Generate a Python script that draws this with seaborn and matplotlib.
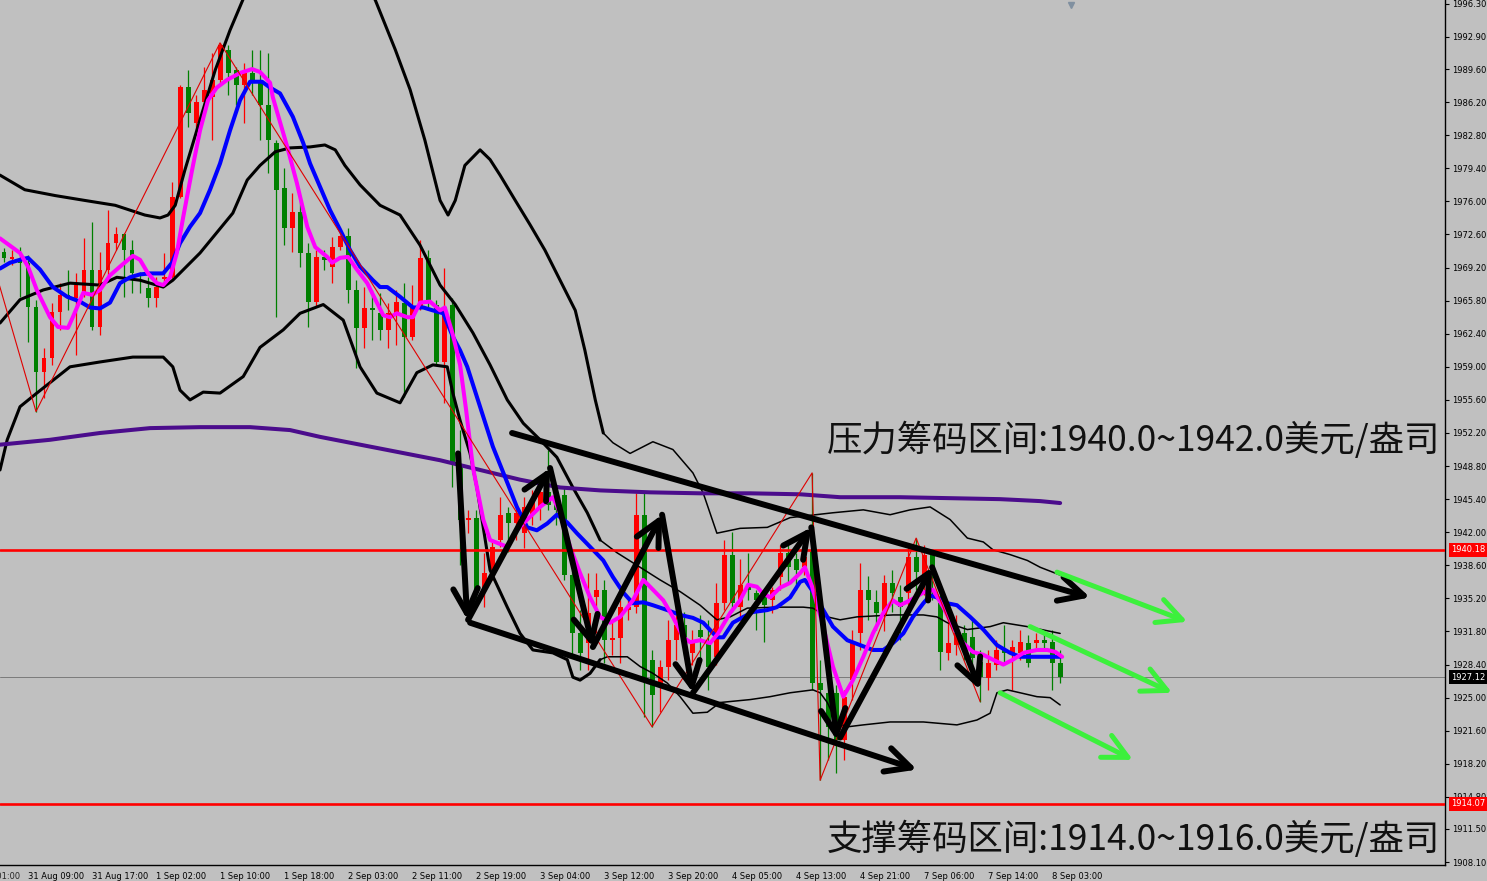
import numpy as np
import pandas as pd
import seaborn as sns
import matplotlib
matplotlib.use('Agg')
import matplotlib.pyplot as plt

# ---- candles (H1 gold, one row per bar) ----
opens = [1970.8, 1970.1, 1970.0, 1969.7, 1965.1, 1958.5, 1959.9, 1964.6, 1966.4, 1966.1,
         1966.6, 1969.0, 1963.1, 1969.0, 1971.7, 1972.7, 1971.0, 1968.6, 1967.1, 1966.1,
         1968.0, 1968.2, 1976.5, 1987.8, 1984.1, 1986.2, 1986.7, 1988.5, 1991.6, 1989.5,
         1988.0, 1989.2, 1988.5, 1985.9, 1982.0, 1977.4, 1973.3, 1974.9, 1970.7, 1965.7,
         1970.3, 1969.3, 1971.3, 1972.4, 1966.9, 1963.0, 1965.0, 1964.5, 1962.8, 1964.5,
         1965.6, 1962.1, 1965.1, 1970.2, 1965.4, 1959.5, 1965.4, 1948.9, 1943.3, 1943.5,
         1936.1, 1938.1, 1941.2, 1944.0, 1943.0, 1941.9, 1943.8, 1944.6, 1946.1, 1945.3,
         1945.8, 1937.6, 1931.6, 1930.6, 1935.3, 1936.1, 1930.9, 1931.1, 1934.0, 1934.3,
         1943.8, 1928.9, 1926.5, 1928.2, 1930.9, 1932.5, 1929.6, 1932.0, 1930.7, 1929.2,
         1934.7, 1939.7, 1934.3, 1936.6, 1935.8, 1935.6, 1935.0, 1937.4, 1939.9, 1939.2,
         1938.4, 1940.2, 1926.5, 1925.5, 1925.5, 1920.6, 1926.8, 1931.6, 1936.1, 1934.8,
         1933.5, 1936.8, 1935.3, 1935.8, 1939.5, 1937.1, 1939.7, 1934.7, 1929.6, 1930.4,
         1931.6, 1931.2, 1928.7, 1927.0, 1928.4, 1929.9, 1929.6, 1929.6, 1930.6, 1930.6,
         1930.9, 1930.7, 1928.6]
highs = [1971.2, 1971.0, 1971.3, 1970.5, 1965.9, 1960.9, 1965.6, 1967.6, 1969.0, 1968.6,
         1972.2, 1973.9, 1970.8, 1975.1, 1973.4, 1972.8, 1972.0, 1968.7, 1968.2, 1968.2,
         1970.7, 1978.0, 1988.0, 1989.5, 1986.9, 1989.8, 1991.3, 1992.3, 1992.1, 1989.8,
         1990.2, 1991.6, 1991.6, 1991.3, 1982.3, 1979.4, 1976.9, 1976.1, 1971.7, 1971.0,
         1971.0, 1972.3, 1972.5, 1973.3, 1967.9, 1967.2, 1966.9, 1966.6, 1965.6, 1966.9,
         1967.6, 1967.4, 1972.0, 1971.0, 1965.9, 1969.2, 1966.1, 1952.5, 1944.3, 1944.3,
         1939.9, 1941.2, 1945.6, 1944.6, 1944.8, 1945.6, 1946.3, 1946.7, 1950.5, 1946.3,
         1946.7, 1938.1, 1934.0, 1937.8, 1937.8, 1937.1, 1932.8, 1935.0, 1935.0, 1946.0,
         1946.0, 1929.9, 1928.9, 1933.0, 1934.5, 1933.8, 1932.0, 1933.5, 1933.0, 1936.8,
         1941.2, 1942.0, 1939.2, 1939.9, 1936.1, 1935.8, 1936.4, 1940.7, 1940.7, 1939.9,
         1940.9, 1948.1, 1928.9, 1926.8, 1926.3, 1925.8, 1932.0, 1938.8, 1937.5, 1936.1,
         1937.6, 1938.1, 1936.6, 1940.5, 1941.4, 1940.7, 1940.2, 1935.6, 1933.0, 1933.5,
         1932.5, 1933.0, 1929.9, 1929.9, 1930.9, 1932.5, 1930.9, 1932.0, 1931.4, 1931.6,
         1931.6, 1932.0, 1929.9]
lows = [1969.8, 1969.5, 1966.2, 1961.5, 1954.4, 1955.8, 1959.2, 1962.8, 1964.8, 1960.2,
        1966.2, 1962.8, 1962.3, 1968.2, 1971.0, 1966.2, 1966.6, 1966.6, 1965.1, 1965.1,
        1967.2, 1968.1, 1976.3, 1983.6, 1983.3, 1985.7, 1982.3, 1988.0, 1986.9, 1985.9,
        1984.1, 1986.9, 1982.3, 1978.9, 1964.1, 1971.5, 1970.8, 1969.3, 1963.1, 1965.1,
        1969.0, 1967.6, 1971.0, 1965.6, 1958.9, 1960.9, 1961.8, 1961.8, 1960.9, 1961.2,
        1955.9, 1961.8, 1964.8, 1964.8, 1959.2, 1955.3, 1946.7, 1938.6, 1941.9, 1935.0,
        1934.3, 1937.1, 1940.5, 1940.0, 1941.2, 1940.4, 1942.7, 1943.3, 1944.3, 1942.7,
        1937.1, 1929.4, 1927.8, 1927.8, 1931.6, 1928.6, 1929.4, 1928.6, 1933.0, 1933.7,
        1923.0, 1922.0, 1923.5, 1926.8, 1928.9, 1929.4, 1928.4, 1928.9, 1925.8, 1928.4,
        1934.0, 1933.8, 1933.0, 1935.0, 1932.0, 1930.7, 1933.7, 1936.1, 1936.8, 1936.1,
        1937.6, 1925.8, 1916.5, 1918.6, 1917.3, 1918.6, 1924.8, 1929.9, 1933.0, 1932.0,
        1931.8, 1933.8, 1930.9, 1934.0, 1936.1, 1935.6, 1935.0, 1927.8, 1928.9, 1929.4,
        1928.9, 1928.1, 1924.6, 1925.8, 1927.8, 1928.4, 1925.8, 1928.9, 1928.1, 1929.9,
        1929.9, 1925.8, 1926.5]
closes = [1970.2, 1970.3, 1969.7, 1965.1, 1958.5, 1959.9, 1964.6, 1966.4, 1966.1, 1967.4,
          1969.0, 1963.1, 1969.0, 1971.7, 1972.7, 1971.0, 1968.6, 1968.3, 1966.1, 1967.2,
          1968.2, 1976.5, 1987.8, 1985.1, 1986.2, 1987.5, 1988.5, 1992.1, 1989.2, 1988.0,
          1989.2, 1988.5, 1985.9, 1982.3, 1977.2, 1973.3, 1974.9, 1970.7, 1965.7, 1970.3,
          1970.0, 1971.3, 1972.4, 1966.9, 1963.0, 1965.0, 1964.8, 1962.8, 1964.5, 1965.7,
          1962.1, 1965.1, 1970.2, 1965.6, 1959.5, 1965.1, 1949.1, 1943.3, 1943.5, 1936.1,
          1937.8, 1940.5, 1943.8, 1943.0, 1944.0, 1944.6, 1945.3, 1946.1, 1944.8, 1944.3,
          1937.6, 1931.6, 1929.6, 1933.7, 1936.1, 1930.9, 1931.1, 1934.3, 1934.3, 1943.8,
          1926.8, 1925.3, 1928.2, 1930.9, 1932.5, 1930.9, 1930.9, 1931.2, 1928.2, 1934.7,
          1939.7, 1934.7, 1936.6, 1936.1, 1935.0, 1934.5, 1936.1, 1939.9, 1938.4, 1938.1,
          1939.5, 1926.5, 1925.8, 1922.0, 1920.6, 1925.1, 1930.6, 1936.1, 1935.0, 1933.7,
          1936.8, 1935.8, 1934.3, 1939.5, 1937.9, 1939.7, 1938.1, 1929.7, 1930.6, 1931.6,
          1930.4, 1929.1, 1927.1, 1928.6, 1929.9, 1929.6, 1930.2, 1930.7, 1928.6, 1930.9,
          1930.6, 1928.6, 1927.1]

tick_bars = [3, 11, 19, 27, 35, 43, 51, 59, 67, 75, 83, 91, 99, 107, 115, 123, 131]
tick_labels = ['31 Aug 09:00', '31 Aug 17:00', '1 Sep 02:00', '1 Sep 10:00', '1 Sep 18:00',
               '2 Sep 03:00', '2 Sep 11:00', '2 Sep 19:00', '3 Sep 04:00', '3 Sep 12:00',
               '3 Sep 20:00', '4 Sep 05:00', '4 Sep 13:00', '4 Sep 21:00', '7 Sep 06:00',
               '7 Sep 14:00', '8 Sep 03:00']
price_ticks = [1996.30, 1992.90, 1989.60, 1986.20, 1982.80, 1979.40, 1976.00, 1972.60,
               1969.20, 1965.80, 1962.40, 1959.00, 1955.60, 1952.20, 1948.80, 1945.40,
               1942.00, 1938.60, 1935.20, 1931.80, 1928.40, 1925.00, 1921.60, 1918.20,
               1914.80, 1911.50, 1908.10]

# ---- indicators (bar, price) ----
fast_bar = [-0.5, 2.0, 3.0, 4.1, 5.75, 6.75, 8.0, 8.6, 9.9, 11.0, 12.0, 13.25, 14.5, 15.5, 16.1,
            17.0, 18.0, 19.1, 19.9, 20.75, 21.6, 22.4, 23.5, 24.5, 25.5, 26.6, 27.9, 29.5, 31.0,
            32.0, 33.25, 33.6, 35.4, 36.6, 37.9, 38.9, 40.4, 41.0, 42.0, 43.0, 44.1, 45.4, 46.6,
            47.4, 48.25, 49.1, 50.4, 51.1, 52.0, 53.25, 54.5, 55.1, 56.1, 57.0, 57.75, 58.6,
            59.9, 60.75, 62.9, 64.1, 65.4, 67.0, 68.6, 69.5, 70.75, 72.0, 73.25, 74.5, 75.75,
            77.0, 78.6, 79.9, 81.1, 82.4, 83.6, 84.9, 85.75, 87.0, 88.25, 89.25, 90.75, 92.0,
            93.0, 94.1, 94.75, 95.75, 97.0, 98.25, 99.5, 100.1, 101.0, 102.4, 103.6, 104.9,
            106.1, 107.4, 108.6, 109.9, 111.1, 112.0, 113.25, 114.9, 116.1, 117.4, 118.6, 119.9,
            121.1, 122.4, 123.6, 124.9, 126.1, 127.4, 129.1, 130.4, 131.4, 132.25]
fast_price = [1972.2, 1970.7, 1969.3, 1966.9, 1964.1, 1963.1, 1963.0, 1964.1, 1966.6, 1966.4,
              1966.9, 1968.4, 1969.3, 1970.0, 1970.4, 1970.0, 1968.6, 1967.6, 1967.4, 1968.2,
              1970.7, 1974.4, 1979.2, 1983.3, 1986.4, 1987.7, 1988.5, 1989.2, 1989.6, 1989.3,
              1988.2, 1986.7, 1981.6, 1977.9, 1973.4, 1971.3, 1970.3, 1969.7, 1970.2, 1970.3,
              1969.0, 1967.6, 1965.6, 1964.3, 1964.1, 1964.5, 1964.1, 1964.1, 1965.6, 1965.7,
              1964.8, 1965.1, 1962.3, 1959.2, 1954.6, 1948.7, 1943.3, 1941.2, 1940.5, 1942.2,
              1943.3, 1944.6, 1945.6, 1944.0, 1940.5, 1937.8, 1935.3, 1933.3, 1932.7, 1933.3,
              1935.0, 1937.1, 1936.1, 1935.0, 1933.3, 1931.2, 1930.7, 1930.9, 1930.6, 1931.6,
              1933.7, 1935.0, 1936.6, 1936.4, 1935.8, 1935.3, 1936.3, 1936.8, 1937.8, 1938.4,
              1936.4, 1932.3, 1928.2, 1925.1, 1926.8, 1929.2, 1931.6, 1933.7, 1935.0, 1934.5,
              1935.0, 1935.8, 1936.1, 1934.3, 1932.3, 1930.6, 1929.7, 1929.4, 1928.9, 1928.4,
              1928.9, 1929.6, 1929.9, 1929.9, 1929.7, 1929.2]

slow_bar = [-0.5, 0.75, 2.0, 3.0, 4.5, 6.1, 7.9, 9.5, 10.75, 12.0, 13.25, 14.5, 15.75, 17.0,
            18.25, 19.9, 21.0, 22.0, 23.25, 24.5, 25.75, 27.0, 28.25, 29.5, 30.75, 32.25, 33.25,
            34.5, 36.1, 37.4, 38.25, 39.5, 40.75, 42.0, 43.25, 44.5, 46.1, 47.0, 47.9, 49.5,
            51.1, 52.4, 53.6, 54.9, 56.1, 57.0, 57.9, 59.5, 61.1, 62.9, 64.1, 65.4, 66.6, 67.9,
            69.1, 70.4, 71.6, 73.25, 74.9, 76.1, 77.4, 78.6, 79.9, 81.1, 82.9, 84.5, 86.1, 87.4,
            89.1, 89.9, 91.1, 92.4, 93.6, 95.4, 96.6, 98.25, 99.5, 100.1, 101.1, 102.4, 103.6,
            105.4, 107.0, 108.6, 109.9, 111.1, 112.4, 113.6, 114.9, 115.75, 116.6, 117.9, 119.1,
            120.75, 122.4, 124.1, 125.75, 127.0, 129.1, 130.75, 132.0]
slow_price = [1969.1, 1969.7, 1970.0, 1970.2, 1969.0, 1967.2, 1966.2, 1965.7, 1965.1, 1965.0,
              1965.6, 1967.6, 1968.2, 1968.5, 1968.6, 1968.6, 1969.7, 1971.7, 1973.4, 1974.8,
              1977.2, 1979.9, 1983.3, 1986.4, 1988.3, 1988.3, 1987.7, 1987.1, 1984.7, 1982.0,
              1979.9, 1977.5, 1975.1, 1973.1, 1971.0, 1969.3, 1967.9, 1967.2, 1967.2, 1966.2,
              1965.1, 1965.1, 1964.8, 1964.5, 1962.1, 1960.7, 1959.0, 1954.9, 1950.8, 1947.1,
              1944.6, 1942.5, 1942.2, 1942.9, 1943.8, 1943.0, 1941.9, 1940.5, 1939.1, 1937.4,
              1935.8, 1934.7, 1934.8, 1934.5, 1934.0, 1933.5, 1933.2, 1932.7, 1931.2, 1931.2,
              1932.7, 1933.3, 1933.8, 1934.0, 1934.3, 1935.3, 1936.9, 1937.1, 1935.9, 1934.0,
              1932.3, 1930.9, 1930.4, 1929.9, 1929.9, 1930.6, 1931.6, 1933.3, 1934.7, 1935.5,
              1935.3, 1934.7, 1934.5, 1933.3, 1932.0, 1930.4, 1929.6, 1929.2, 1929.2, 1929.2,
              1929.2]

long_bar = [-0.5, 5.75, 12, 18.25, 24.5, 30.75, 35.75, 39.5, 44.5, 49.5, 54.5, 59.5, 64.5,
            69.5, 74.5, 80.75, 87, 93.25, 99.5, 104.5, 112, 118.25, 124.5, 129.5, 132]
long_price = [1951.0, 1951.5, 1952.2, 1952.7, 1952.8, 1952.8, 1952.5, 1951.8, 1951.0, 1950.2,
              1949.4, 1948.4, 1947.4, 1946.6, 1946.3, 1946.1, 1946.0, 1946.0, 1945.9, 1945.6,
              1945.6, 1945.5, 1945.4, 1945.2, 1945.0]

upper_bar = [-0.5, 2.6, 6.4, 10.1, 13.9, 17.6, 19.5, 20.5, 21.4, 22.6, 24.5, 26.4, 28.25, 30.1,
             34.5, 39.5, 43.9, 46.4, 48.9, 50.75, 52.6, 54.5, 55.5, 56.4, 57.6, 59.5, 60.75,
             62.0, 63.9, 65.75, 67.6, 69.5, 71.4, 72.6, 73.9, 74.9, 76.1, 78.25, 81.1, 83.6,
             86.1, 87.4, 89.1, 92.0, 95.4, 98.25, 103.6, 107.4, 110.75, 113.25, 115.75, 118.25,
             120.4, 122.4, 123.6, 125.75, 127.9, 129.5, 132.0]
upper_price = [1978.7, 1977.2, 1976.6, 1976.1, 1975.6, 1974.6, 1974.3, 1974.6, 1975.6, 1979.2,
               1984.4, 1989.5, 1993.6, 1997.2, 2002.9, 2003.9, 1999.8, 1996.7, 1991.6, 1987.5,
               1982.3, 1976.1, 1974.6, 1976.1, 1979.7, 1981.3, 1980.3, 1978.7, 1976.1, 1973.6,
               1971.0, 1967.9, 1964.8, 1960.7, 1955.6, 1952.2, 1951.2, 1950.1, 1951.3, 1950.5,
               1948.1, 1946.0, 1941.9, 1942.4, 1942.5, 1943.5, 1944.0, 1944.3, 1943.8, 1944.3,
               1944.6, 1943.3, 1941.4, 1941.0, 1940.2, 1939.7, 1939.1, 1938.4, 1937.6]

mid_bar = [-0.5, 2.0, 4.9, 8.25, 12, 14.1, 17, 19.9, 21.1, 24.5, 28.6, 30.4, 32, 33.9, 35.75,
           38.25, 40.1, 41.4, 42.6, 44.5, 47, 49.5, 52, 54.5, 56.4, 58.6, 60.75, 62.9, 64.9, 67,
           69.1, 71.1, 72.9, 74.5, 76.6, 79.5, 82, 84.5, 87, 89.1, 90.75, 92.9, 96.6, 99.9,
           101.1, 102.9, 104.5, 106.6, 111.1, 114.9, 116.6, 117.9, 120.4, 123.25, 124.9, 127.9,
           132]
mid_price = [1963.5, 1965.9, 1966.9, 1967.6, 1967.4, 1968.2, 1967.9, 1967.2, 1967.9, 1970.7,
             1974.8, 1978.2, 1979.7, 1981.1, 1981.5, 1981.6, 1981.8, 1981.3, 1979.7, 1977.7,
             1975.6, 1974.6, 1971.5, 1967.4, 1965.4, 1962.5, 1959.2, 1955.6, 1953.2, 1951.5,
             1949.7, 1946.6, 1944.0, 1941.2, 1939.9, 1938.4, 1937.1, 1935.9, 1934.5, 1933.0,
             1933.3, 1934.2, 1934.3, 1934.3, 1934.2, 1933.3, 1933.0, 1933.3, 1933.5, 1933.5,
             1933.3, 1932.7, 1932.0, 1932.3, 1932.7, 1932.3, 1931.6]

lower_bar = [-0.5, 0.4, 2, 4.1, 6.1, 8.25, 12, 16.1, 19.9, 21.1, 22, 23.25, 24.9, 27, 29.9, 32,
             34.9, 37, 39.9, 42.4, 44.5, 46.6, 49.5, 51.6, 53.6, 55.4, 56.1, 57, 58.25, 59.1,
             60.75, 62.9, 64.5, 66.1, 68.6, 70.4, 71.1, 72, 73.25, 74.5, 75.4, 77.9, 79.5, 81.1,
             82.9, 84.5, 86.1, 87.9, 89.5, 93.25, 95.75, 98.25, 101.1, 102, 102.9, 104.1, 105.4,
             107.4, 110.75, 114.9, 119.1, 121.6, 123.25, 124.1, 125.4, 127, 129.1, 130.75, 132]
lower_price = [1948.4, 1951.5, 1954.9, 1956.3, 1957.6, 1959.0, 1959.5, 1960.0, 1960.0, 1959.0,
               1956.6, 1955.6, 1956.4, 1956.3, 1958.0, 1961.0, 1962.8, 1964.5, 1965.4, 1963.8,
               1959.0, 1956.3, 1955.3, 1958.4, 1959.2, 1959.0, 1956.3, 1953.5, 1950.1, 1946.6,
               1938.1, 1934.3, 1931.6, 1929.9, 1929.6, 1928.9, 1927.1, 1926.8, 1927.5, 1928.9,
               1929.2, 1929.2, 1928.2, 1927.5, 1926.5, 1925.1, 1923.4, 1923.5, 1924.5, 1924.8,
               1925.1, 1925.5, 1925.8, 1925.5, 1924.5, 1922.4, 1922.0, 1922.2, 1922.5, 1922.5,
               1922.2, 1922.7, 1923.4, 1925.5, 1925.8, 1925.5, 1925.1, 1925.0, 1924.25]

zigzag_bar = [-1, 4, 27, 81, 101, 102, 114, 122]
zigzag_price = [1968.6, 1954.4, 1992.3, 1922.0, 1948.1, 1916.5, 1941.4, 1924.6]

resistance = 1940.18
support = 1914.07
bid = 1927.12

# hand drawn annotations: (bar0, price0, bar1, price1)
black_arrows = [(56.75, 1950.1, 57.9, 1933.0), (58.0, 1933.0, 68.25, 1948.6),
                (68.25, 1948.6, 73.6, 1930.2), (73.6, 1930.2, 82.25, 1943.8),
                (82.25, 1943.8, 86.1, 1925.5), (86.1, 1925.5, 100.9, 1942.5),
                (100.9, 1942.5, 104.1, 1920.6), (104.5, 1920.9, 116.0, 1938.4),
                (116.0, 1938.4, 122.0, 1925.8),
                (63.5, 1952.2, 135.75, 1935.3), (58.25, 1932.7, 114.1, 1917.6)]
green_arrows = [(131.6, 1937.9, 147.9, 1932.8), (128.25, 1932.3, 146.0, 1925.5),
                (124.5, 1925.5, 141.1, 1918.6)]

resist_text = '压力筹码区间:1940.0~1942.0美元/盎司'
support_text = '支撑筹码区间:1914.0~1916.0美元/盎司'

# ---- style ----
bg = '#c0c0c0'
sns.set_style('white', {'axes.facecolor': bg, 'figure.facecolor': bg})
plt.rcParams['font.family'] = ['DejaVu Sans', 'Noto Sans CJK SC']

fig = plt.figure(figsize=(14.87, 8.81), dpi=100)
ax = fig.add_axes([0, 16 / 881, 1445 / 1487, 865 / 881])
ax.set_facecolor(bg)

df = pd.DataFrame({'open': opens, 'high': highs, 'low': lows, 'close': closes})
df['bar'] = np.arange(len(df))
df['color'] = np.where(df['close'] >= df['open'], '#ff0000', '#008000')

ax.vlines(df['bar'], df['low'], df['high'], colors=df['color'], lw=0.9, zorder=2)
body = (df['close'] - df['open']).abs().clip(lower=0.12)
ax.bar(df['bar'], body, bottom=df[['open', 'close']].min(axis=1), width=0.62,
       color=df['color'], linewidth=0, zorder=2)


def line(xs, ys, color, lw, z=3):
    sns.lineplot(x=np.asarray(xs), y=np.asarray(ys), sort=False, estimator=None,
                 color=color, linewidth=lw, ax=ax, zorder=z, legend=False)


def band(xs, ys, split=74.5):
    xs = np.asarray(xs)
    ys = np.asarray(ys)
    k = int(np.searchsorted(xs, split))
    line(xs[:k + 1], ys[:k + 1], 'black', 2.2)
    line(xs[k:], ys[k:], 'black', 1.1)


band(upper_bar, upper_price)
band(mid_bar, mid_price)
band(lower_bar, lower_price)
line(long_bar, long_price, '#4b0c8c', 2.9)
line(slow_bar, slow_price, '#0000ff', 2.9)
line(fast_bar, fast_price, '#ff00ff', 2.9)
line(zigzag_bar, zigzag_price, '#e00000', 0.8)

ax.axhline(resistance, color='#ff0000', lw=1.9, zorder=4)
ax.axhline(support, color='#ff0000', lw=1.9, zorder=4)
ax.axhline(bid, color='#7a7a7a', lw=0.7, zorder=1)

for x0, y0, x1, y1 in black_arrows:
    ax.annotate('', xy=(x1, y1), xytext=(x0, y0),
                arrowprops=dict(arrowstyle='->,head_length=0.8,head_width=0.4',
                                color='black', lw=4.3, shrinkA=0, shrinkB=0,
                                mutation_scale=22), zorder=6)
for x0, y0, x1, y1 in green_arrows:
    ax.annotate('', xy=(x1, y1), xytext=(x0, y0),
                arrowprops=dict(arrowstyle='->,head_length=0.8,head_width=0.4',
                                color='#3cf03c', lw=3.6, shrinkA=0, shrinkB=0,
                                mutation_scale=22), zorder=6)

big = ['Noto Sans CJK SC', 'DejaVu Sans']
ax.text(0.9965, 0.491, resist_text, transform=ax.transAxes, ha='right', va='center',
        fontsize=25.5, family=big, color='#111111', zorder=7)
ax.text(0.9965, 0.030, support_text, transform=ax.transAxes, ha='right', va='center',
        fontsize=25.5, family=big, color='#111111', zorder=7)

# ---- axes ----
ax.set_xlim(-0.5, 180.1)
ax.set_ylim(1907.8, 1996.7)
ax.set_xticks(tick_bars)
ax.set_xticklabels(tick_labels, ha='left', fontsize=6)
ax.yaxis.tick_right()
ax.set_yticks(price_ticks)
ax.set_yticklabels(['%.2f' % p for p in price_ticks], fontsize=6)
ax.tick_params(axis='both', direction='out', length=3, width=0.8, color='black',
               labelcolor='black', pad=2)
ax.set_xlabel('')
ax.set_ylabel('')
for side in ['top', 'left']:
    ax.spines[side].set_visible(False)
for side in ['right', 'bottom']:
    ax.spines[side].set_color('black')
    ax.spines[side].set_linewidth(1.0)

ax.annotate('31 Aug 01:00', xy=(-5, 0), xycoords=('data', 'axes fraction'),
            xytext=(0, -5), textcoords='offset points', ha='left', va='top',
            fontsize=6, annotation_clip=False)

trans = ax.get_yaxis_transform()
for val, fc in [(resistance, '#ff0000'), (support, '#ff0000'), (bid, '#000000')]:
    ax.text(1.0045, val, '%.2f' % val, transform=trans, ha='left', va='center',
            fontsize=6, color='white', zorder=8, clip_on=False,
            bbox=dict(boxstyle='square,pad=0.25', fc=fc, ec='none'))

ax.plot([133.3], [1996.2], marker='v', color='#8090a0', ms=5, clip_on=False, zorder=8)

fig.savefig('out.png', dpi=100, facecolor=bg)
